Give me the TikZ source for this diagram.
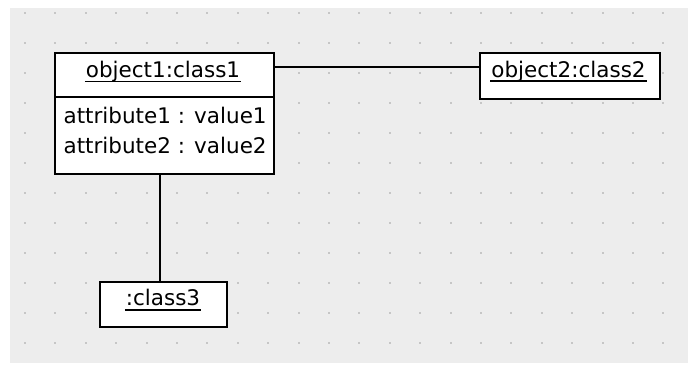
\documentclass[tikz,border=0pt]{standalone}
\usepackage{fontspec}
\setmainfont{DejaVu Sans}
\usetikzlibrary{positioning}
\definecolor{uml-bg}{HTML}{EDEDED}
\definecolor{uml-dot}{HTML}{C6C6C6}
\definecolor{uml-line}{HTML}{000000}

\begin{document}
\begin{tikzpicture}[x=1pt, y=-1pt, line width=2.2pt,
    objbox/.style={draw=uml-line, fill=white, rectangle, inner sep=0pt, anchor=north west},
    objtext/.style={font=\fontsize{21.5}{29}\selectfont, inner sep=0pt},
    uline/.style={line width=1.8pt, line cap=butt}]
    \useasboundingbox (0,0) rectangle (688,365);
    % Canvas with dot grid
    \fill[white] (0,0) rectangle (688,365);
    \fill[uml-bg] (10,8) rectangle (688,363);
    \foreach \i in {0,...,21}
        \foreach \j in {0,...,11}
            \fill[uml-dot] (24+30.4*\i, 12+30*\j) rectangle ++(2,2);

    % --- Object 1 (with attributes) ---
    \node[objbox, minimum width=219pt, minimum height=121pt] (obj1) at (54,52) {};
    \draw ([yshift=-44.7pt]obj1.north west) -- ([yshift=-44.7pt]obj1.north east);
    \node[objtext, anchor=base] (obj1name) at (163, 77.5) {object1:class1};
    \draw[uline] ([yshift=-4pt]obj1name.base west) -- ([yshift=-4pt]obj1name.base east);
    \node[objtext, anchor=base west] (obj1attr1) at (62.5, 123) {attribute1 : value1};
    \node[objtext, anchor=base west] (obj1attr2) at (62.5, 153) {attribute2 : value2};

    % --- Object 2 ---
    \node[objbox, minimum width=180pt, minimum height=46pt] (obj2) at (479,52) {};
    \node[objtext, anchor=base] (obj2name) at (568.5, 77) {object2:class2};
    \draw[uline] ([yshift=-4pt]obj2name.base west) -- ([yshift=-4pt]obj2name.base east);

    % --- Anonymous object 3 ---
    \node[objbox, minimum width=126.5pt, minimum height=45pt] (obj3) at (99,281) {};
    \node[objtext, anchor=base] (obj3name) at (163, 305) {:class3};
    \draw[uline] ([yshift=-5pt]obj3name.base west) -- ([yshift=-5pt]obj3name.base east);

    % Links
    \draw ([yshift=-15pt]obj1.north east) -- ([yshift=-15pt]obj2.north west);
    \draw ([xshift=106pt]obj1.south west) -- ([xshift=61pt]obj3.north west);
\end{tikzpicture}
\end{document}
